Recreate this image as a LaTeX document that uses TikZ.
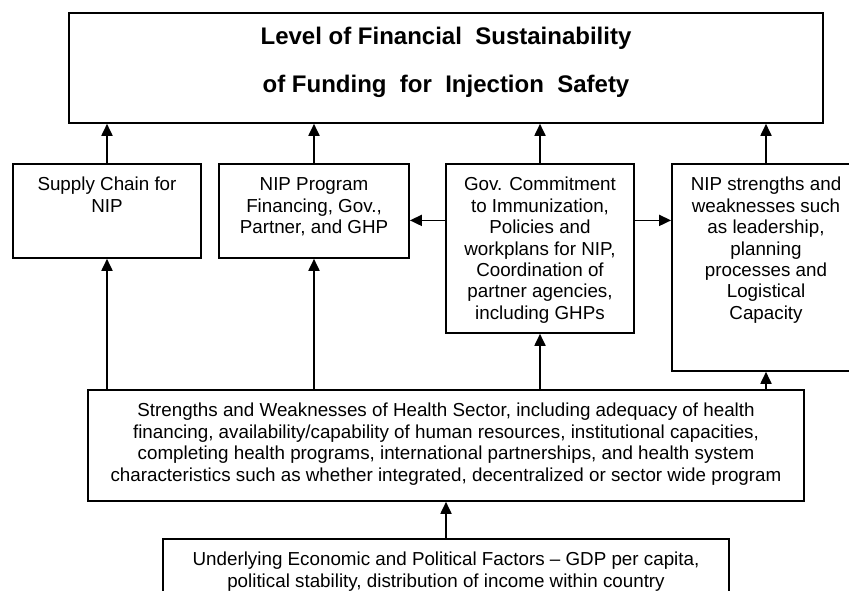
\documentclass[tikz,border=0pt]{standalone}
\usepackage{fontspec}
\setmainfont{Liberation Sans}
\usepackage{tikz}
\usetikzlibrary{arrows.meta}

% width, height, first baseline, text
\newcommand{\boxtext}[4]{\parbox[t][#2][t]{#1}{\centering\rule{0pt}{#3}#4}}

\begin{document}
\begin{tikzpicture}[x=1pt,y=-1pt,
		font=\fontsize{18.8}{21.4}\selectfont,
		box/.style={draw,line width=1.8pt,inner sep=0pt,anchor=north},
		arr/.style={line width=1.8pt,-{Triangle[length=12pt,width=11pt]}}]
		\clip (0,0) rectangle (849,591);

		\node[box] (top) at (446,12) {\boxtext{754pt}{110pt}{32pt}{\fontsize{24}{48}\selectfont\bfseries
			Level of Financial~~Sustainability\\of Funding~~for~~Injection~~Safety}};

		\node[box] (supply)  at (107,163) {\boxtext{188pt}{94pt}{27pt}{Supply Chain for\\NIP}};
		\node[box] (program) at (314,163) {\boxtext{190pt}{94pt}{27pt}{NIP Program\\Financing, Gov.,\\Partner, and GHP}};
		\node[box] (commit)  at (540,163) {\boxtext{188pt}{169pt}{27pt}{Gov. Commitment\\to Immunization,\\Policies and\\workplans for NIP,\\Coordination of\\partner agencies,\\including GHPs}};
		\node[box] (nipsw)   at (766,163) {\boxtext{188pt}{207pt}{27pt}{NIP strengths and\\weaknesses such\\as leadership,\\planning\\processes and\\Logistical\\Capacity}};

		\node[box] (health) at (446,389) {\boxtext{716pt}{111pt}{27pt}{Strengths and Weaknesses of Health Sector, including adequacy of health\\
			financing, availability/capability of human resources, institutional capacities,\\
			completing health programs, international partnerships, and health system\\
			characteristics such as whether integrated, decentralized or sector wide program}};

		\node[box] (factors) at (446,538) {\boxtext{566pt}{70pt}{27pt}{Underlying Economic and Political Factors -- GDP per capita,\\
			political stability, distribution of income within country}};

		% into the top box
		\foreach \n in {supply,program,commit,nipsw}
			\draw[arr] (\n.north) -- (\n.north |- top.south);

		% sideways from the commitment box
		\coordinate (splitl) at ([yshift=28pt]commit.west);
		\coordinate (splitr) at ([yshift=28pt]commit.east);
		\draw[arr] (splitl) -- (splitl -| program.east);
		\draw[arr] (splitr) -- (splitr -| nipsw.west);

		% up from the health sector
		\foreach \n in {supply,program,commit,nipsw}
			\draw[arr] (health.north -| \n.south) -- (\n.south);
		\draw[arr] (factors.north) -- (health.south);
	\end{tikzpicture}
\end{document}
